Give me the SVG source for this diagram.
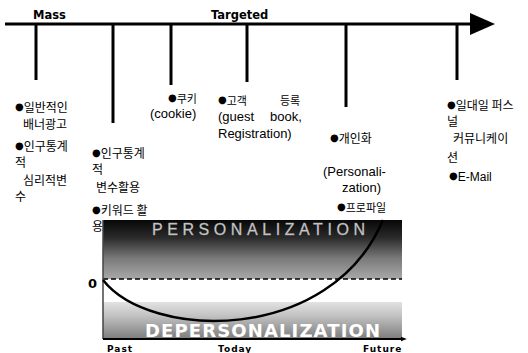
<svg xmlns="http://www.w3.org/2000/svg" width="528" height="353" viewBox="0 0 528 353">
  <defs>
    <style>
      .ko { font-family: "Noto Sans CJK KR", "DejaVu Sans", sans-serif; font-size: 12px; fill: #000; }
      .ks { font-family: "Noto Sans CJK KR", "DejaVu Sans", sans-serif; font-size: 11px; fill: #000; }
      .b { font-family: "DejaVu Sans", sans-serif; font-size: 10px; baseline-shift: 2px; }
      .la { font-family: "Liberation Sans", Arial, sans-serif; font-size: 13px; fill: #000; }
      .hd { font-family: "DejaVu Sans", sans-serif; font-weight: bold; font-size: 11.5px; fill: #000; }
      .ax { font-family: "DejaVu Sans", sans-serif; font-weight: bold; font-size: 9px; letter-spacing: 1px; fill: #000; }
      .tick { stroke: #000; stroke-width: 3; fill: none; }
    </style>
    <linearGradient id="gTop" x1="0" y1="0" x2="0" y2="1">
      <stop offset="0" stop-color="#080808"/>
      <stop offset="0.3" stop-color="#2a2a2a"/>
      <stop offset="0.65" stop-color="#7a7a7a"/>
      <stop offset="1" stop-color="#a8a8a8"/>
    </linearGradient>
    <linearGradient id="gBot" x1="0" y1="0" x2="0" y2="1">
      <stop offset="0" stop-color="#e2e2e2"/>
      <stop offset="0.35" stop-color="#c4c4c4"/>
      <stop offset="1" stop-color="#7c7c7c"/>
    </linearGradient>
    <marker id="smallArrow" viewBox="0 0 10 10" refX="2" refY="5" markerWidth="6" markerHeight="6" markerUnits="userSpaceOnUse" orient="auto">
      <path d="M0,1 L10,5 L0,9 Z" fill="#000"/>
    </marker>
  </defs>

  <rect width="528" height="353" fill="#fff"/>

  <!-- connectors: timeline axis and ticks -->
  <g id="connectors">
    <line x1="5" y1="24" x2="472" y2="24" stroke="#000" stroke-width="3"/>
    <path d="M470,13 L495,24 L470,35 Z" fill="#000"/>
    <line class="tick" x1="36" y1="24" x2="36" y2="80"/>
    <line class="tick" x1="113" y1="24" x2="113" y2="123"/>
    <line class="tick" x1="171" y1="24" x2="171" y2="85"/>
    <line class="tick" x1="247" y1="24" x2="247" y2="82"/>
    <line class="tick" x1="346" y1="24" x2="346" y2="107"/>
    <line class="tick" x1="457" y1="24" x2="457" y2="80"/>
  </g>

  <g id="header">
    <text class="hd" x="33" y="19">Mass</text>
    <text class="hd" x="211" y="19">Targeted</text>
  </g>

  <g id="node-mass-banner">
    <text class="ko" x="15" y="112"><tspan class="b">●</tspan>일반적인</text>
    <text class="ko" x="23" y="129">배너광고</text>
    <text class="ko" x="15" y="151"><tspan class="b">●</tspan>인구통계</text>
    <text class="ko" x="15" y="167">적</text>
    <text class="ko" x="23" y="185">심리적변</text>
    <text class="ko" x="15" y="201">수</text>
  </g>

  <g id="node-demographic">
    <text class="ko" x="92" y="158"><tspan class="b">●</tspan>인구통계</text>
    <text class="ko" x="92" y="174">적</text>
    <text class="ko" x="96" y="192">변수활용</text>
    <text class="ko" x="92" y="215"><tspan class="b">●</tspan>키워드  활</text>
    <text class="ko" x="92" y="231">용</text>
  </g>

  <g id="node-cookie">
    <text class="ks" x="168" y="103"><tspan class="b">●</tspan>쿠키</text>
    <text class="la" x="150" y="118">(cookie)</text>
  </g>

  <g id="node-registration">
    <text class="ks" x="218" y="105"><tspan class="b">●</tspan>고객</text>
    <text class="ks" x="280" y="105">등록</text>
    <text class="la" x="218" y="121">(guest</text>
    <text class="la" x="270" y="121">book,</text>
    <text class="la" x="218" y="138">Registration)</text>
  </g>

  <g id="node-personalization">
    <text class="ko" x="330" y="143"><tspan class="b">●</tspan>개인화</text>
    <text class="la" x="323" y="176" font-size="13.5">(Personali-</text>
    <text class="la" x="342" y="192" font-size="13.5">zation)</text>
    <text class="ks" x="337" y="212"><tspan class="b">●</tspan>프로파일</text>
  </g>

  <g id="node-one-to-one">
    <text class="ko" x="447" y="110"><tspan class="b">●</tspan>일대일  퍼스</text>
    <text class="ko" x="447" y="126">널</text>
    <text class="ko" x="453" y="143">커뮤니케이</text>
    <text class="ko" x="447" y="162">션</text>
    <text class="ko" x="449" y="181"><tspan class="b">●</tspan><tspan font-family="Liberation Sans, Arial, sans-serif" font-size="12">E-Mail</tspan></text>
  </g>

  <!-- chart -->
  <g id="chart">
    <rect x="103" y="220" width="299" height="59" fill="url(#gTop)"/>
    <rect x="103" y="302" width="299" height="37" fill="url(#gBot)"/>
    <line x1="103" y1="279" x2="402" y2="279" stroke="#000" stroke-width="1.5" stroke-dasharray="5,3"/>
    <line x1="103" y1="220" x2="103" y2="339" stroke="#444" stroke-width="1.5"/>
    <text x="152" y="235" textLength="213" lengthAdjust="spacing" font-family="Liberation Sans, Arial, sans-serif" font-size="16" fill="#d4d4d4" stroke="#999" stroke-width="0.4">PERSONALIZATION</text>
    <text x="145" y="337" textLength="235" lengthAdjust="spacing" font-family="DejaVu Sans, sans-serif" font-weight="bold" font-size="18" fill="#fff">DEPERSONALIZATION</text>
    <line x1="103" y1="339" x2="402" y2="339" stroke="#000" stroke-width="2" marker-end="url(#smallArrow)"/>
    <path d="M103,280 C150,340 330,345 383,220" fill="none" stroke="#000" stroke-width="2.5"/>
    <text x="88" y="288" font-family="DejaVu Sans, sans-serif" font-weight="bold" font-size="13" fill="#000">0</text>
    <text class="ax" x="107" y="352">Past</text>
    <text class="ax" x="218" y="352">Today</text>
    <text class="ax" x="363" y="352">Future</text>
  </g>
</svg>
